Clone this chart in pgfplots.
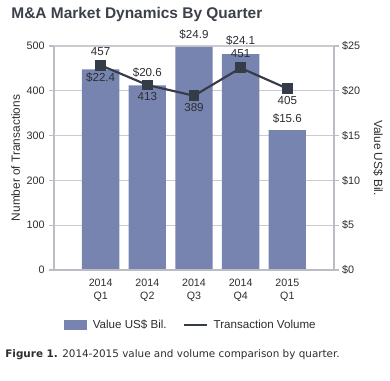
\documentclass[border=0pt]{standalone}
\usepackage{pgfplots}
\pgfplotsset{compat=1.18}
\usepackage{fontspec}
\setmainfont{Liberation Sans}
\newfontfamily\capfont{DejaVu Sans}
\definecolor{barc}{RGB}{120,132,176}
\definecolor{linec}{RGB}{52,60,72}
\definecolor{gridc}{RGB}{202,202,208}
\definecolor{axc}{RGB}{188,188,196}
\definecolor{txt}{RGB}{45,45,50}
\definecolor{titc}{RGB}{60,64,74}
\begin{document}
\begin{tikzpicture}[font=\fontsize{8.7}{10}\selectfont, text=txt]
\path[use as bounding box] (-40.5pt,-82.5pt) rectangle (252pt,202.5pt);
% bars on right axis
\begin{axis}[
  scale only axis, width=210pt, height=168pt, at={(0,0)}, anchor=south west,
  xmin=-1, xmax=5, ymin=0, ymax=25,
  axis y line*=right, axis x line=none,
  ytick={0,5,10,15,20,25},
  /pgf/number format/assume math mode=true,
  yticklabel={\$\pgfmathprintnumber{\tick}},
  yticklabel style={font=\fontsize{8.1}{10}\selectfont, text=txt, xshift=-1pt},
  ymajorgrids, grid style={gridc, line width=0.8pt},
  axis line style={axc, line width=0.9pt},
  major tick style={axc, line width=0.8pt},
  major tick length=3.5pt, tick align=outside,
  ylabel={Value US\$ Bil.},
  every axis y label/.style={at={(axis description cs:1,0.5)}, xshift=33pt, anchor=center, rotate=-90, text=txt, font=\fontsize{8.9}{10}\selectfont},
]
\addplot[ybar, bar width=28pt, fill=barc, draw=none] coordinates {(0,22.4) (1,20.6) (2,24.9) (3,24.1) (4,15.6)};
\end{axis}
% line on left axis
\begin{axis}[
  scale only axis, width=210pt, height=168pt, at={(0,0)}, anchor=south west,
  xmin=-1, xmax=5, ymin=0, ymax=500,
  axis y line*=left, axis x line*=bottom,
  clip=false,
  xtick={0,1,2,3,4},
  xticklabels={{2014\\Q1},{2014\\Q2},{2014\\Q3},{2014\\Q4},{2015\\Q1}},
  xticklabel style={align=center, font=\fontsize{8}{9.8}\selectfont, text=txt},
  x tick style={draw=none},
  ytick={0,100,200,300,400,500},
  /pgf/number format/assume math mode=true,
  yticklabel style={font=\fontsize{8.1}{10}\selectfont, text=txt},
  axis line style={axc, line width=0.9pt},
  major tick style={axc, line width=0.8pt},
  major tick length=3.5pt, tick align=outside,
  ylabel={Number of Transactions},
  ylabel style={text=txt, font=\fontsize{8.9}{10}\selectfont, yshift=-2pt},
  legend columns=2,
  legend style={at={(axis description cs:0.49,-0.2455)}, anchor=center, draw=none, fill=none,
    font=\fontsize{8.7}{10}\selectfont, text=txt, column sep=0pt,
    /tikz/every odd column/.append style={column sep=2.5pt},
    /tikz/every even column/.append style={column sep=10pt}},
  legend image code/.code={\draw[#1] (0cm,0cm) -- (0.6cm,0cm);},
]
\addlegendimage{area legend, fill=barc, draw=none, legend image code/.code={\fill[barc] (0cm,-0.13cm) rectangle (0.6cm,0.13cm);}}
\addlegendentry{Value US\$ Bil.}
\addplot[linec, line width=1.6pt, mark=square*, mark size=3.3pt, mark options={fill=linec}] coordinates {(0,457) (1,413) (2,389) (3,451) (4,405)};
\addlegendentry{Transaction Volume}
% data labels
\node[yshift=10.5pt] at (axis cs:0,457) {457};
\node[yshift=-9pt] at (axis cs:0,457) {\$22.4};
\node[yshift=9pt] at (axis cs:1,413) {\$20.6};
\node[yshift=-8.5pt] at (axis cs:1,413) {413};
\node[yshift=9.5pt] at (axis cs:2,498) {\$24.9};
\node[yshift=-9pt] at (axis cs:2,389) {389};
\node[yshift=9.75pt] at (axis cs:3,482) {\$24.1};
\node[yshift=11pt] at (axis cs:3,451) {451};
\node[yshift=-9pt] at (axis cs:4,405) {405};
\node[yshift=9pt] at (axis cs:4,312) {\$15.6};
\end{axis}
\node[anchor=west, text=titc, font=\bfseries\fontsize{11.6}{14}\selectfont] at (-35.5pt,191.5pt) {M\&A Market Dynamics By Quarter};
\node[anchor=west, text=txt, font=\capfont\fontsize{7.8}{9}\selectfont] at (-40pt,-63.75pt) {\textbf{Figure 1.} 2014-2015 value and volume comparison by quarter.};
\end{tikzpicture}
\end{document}
